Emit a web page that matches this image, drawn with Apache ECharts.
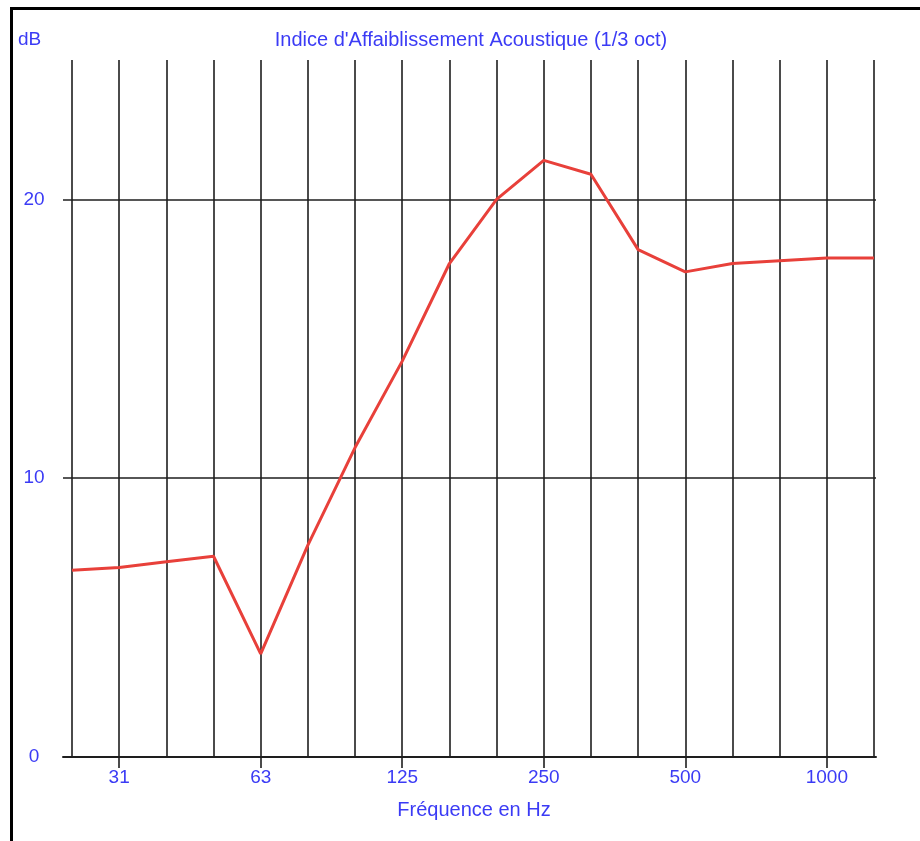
<!DOCTYPE html>
<html><head><meta charset="utf-8">
<script src="https://cdn.jsdelivr.net/npm/echarts@6/dist/echarts.min.js"></script>
<style>html,body{margin:0;padding:0;background:#fff}#c{width:920px;height:841px}</style>
</head><body><div id="c"></div>
<script>
const frequencies = ['25','31.5','40','50','63','80','100','125','160','200','250','315','400','500','630','800','1000','1250'];
const tickLabels = {'31.5':'31','63':'63','125':'125','250':'250','500':'500','1000':'1000'};
const reductionIndex = [6.7,6.8,7.0,7.2,3.7,7.6,11.1,14.2,17.7,20.0,21.4,20.9,18.2,17.4,17.7,17.8,17.9,17.9];
const yMin = 0, yMax = 25, yStep = 10;
const chartTitle = "Indice d'Affaiblissement Acoustique (1/3 oct)";
const yUnit = 'dB';
const xName = 'Fréquence en Hz';

const blue = '#3b3bf5';
const font = 'Liberation Sans, Arial, sans-serif';
const gridLine = {color:'#1e1e1e', width:1.6};

const chart = echarts.init(document.getElementById('c'), null, {renderer:'canvas'});
chart.setOption({
  animation:false,
  backgroundColor:'#fff',
  graphic:[{type:'rect', left:9, top:6, shape:{width:1000, height:1000}, style:{fill:'none', stroke:'#000', lineWidth:3}, silent:true}],
  title:[
    {text:chartTitle, left:471, top:30, textAlign:'center', padding:0, textStyle:{color:blue, fontFamily:font, fontSize:20, fontWeight:'normal'}},
    {text:yUnit, left:18, top:30, padding:0, textStyle:{color:blue, fontFamily:font, fontSize:19, fontWeight:'normal'}},
    {text:xName, left:474, top:800, textAlign:'center', padding:0, textStyle:{color:blue, fontFamily:font, fontSize:20, fontWeight:'normal'}}
  ],
  grid:[
    {left:72, right:46, top:60, bottom:84, containLabel:false},
    {left:63, right:44, top:60, bottom:84, containLabel:false}
  ],
  xAxis:[
    {type:'category', gridIndex:0, data:frequencies, boundaryGap:false,
     axisLine:{show:false},
     axisTick:{show:true, length:11, lineStyle:gridLine, interval:(i,v)=>tickLabels[v]!==undefined},
     axisLabel:{show:true, interval:(i,v)=>tickLabels[v]!==undefined, formatter:v=>tickLabels[v]||'', color:blue, fontFamily:font, fontSize:19, margin:11},
     splitLine:{show:true, interval:0, lineStyle:gridLine}},
    {type:'value', gridIndex:1, min:0, max:1,
     axisLine:{show:true, onZero:false, lineStyle:{color:'#1e1e1e', width:2}},
     axisTick:{show:false}, axisLabel:{show:false}, splitLine:{show:false}}
  ],
  yAxis:[
    {type:'value', gridIndex:0, min:yMin, max:yMax, show:false, splitLine:{show:false}},
    {type:'value', gridIndex:1, min:yMin, max:yMax, interval:yStep,
     axisLine:{show:false}, axisTick:{show:false},
     axisLabel:{color:blue, fontFamily:font, fontSize:19, align:'center', margin:29, showMaxLabel:false, padding:[6,0,0,0]},
     splitLine:{show:true, showMinLine:false, showMaxLine:false, lineStyle:gridLine}}
  ],
  series:[{type:'line', xAxisIndex:0, yAxisIndex:0, data:reductionIndex, symbol:'none', z:5,
    lineStyle:{color:'#e8403a', width:3}}]
});
</script></body></html>
